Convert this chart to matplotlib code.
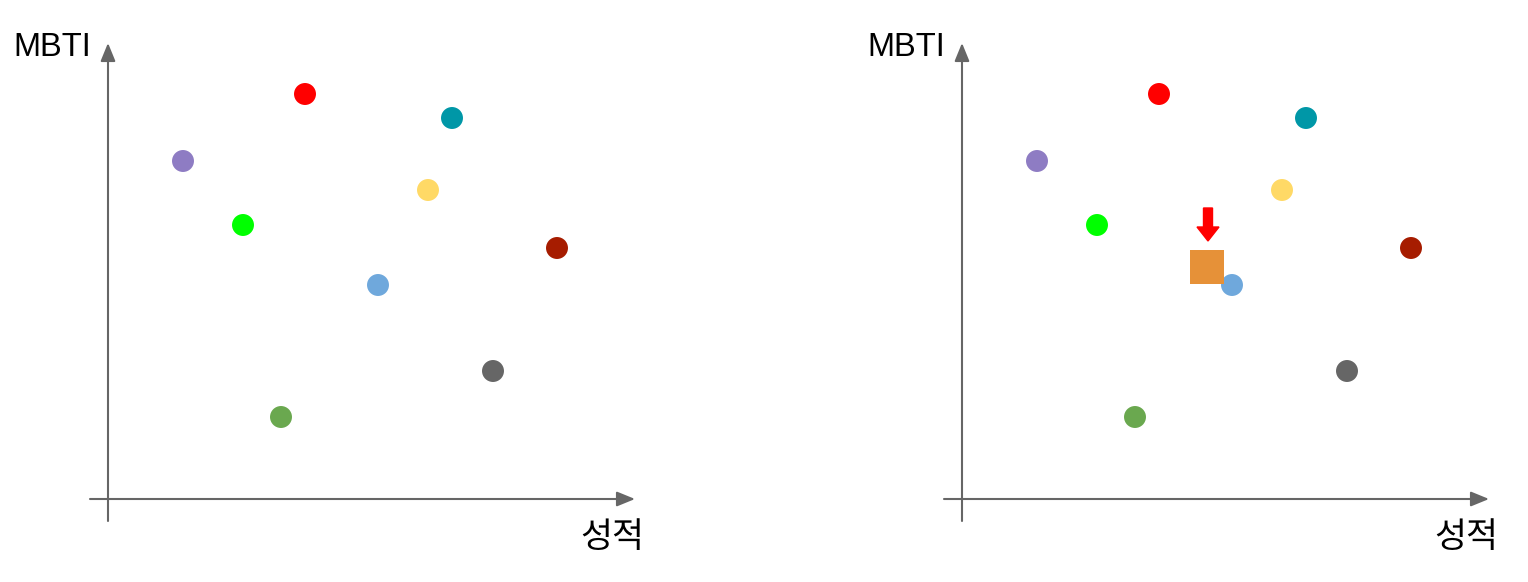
import matplotlib
matplotlib.use("Agg")
from matplotlib import pyplot as plt

# 성적 (x) and MBTI (y) of existing students, in chart units
scores = [75, 197, 344, 320, 135, 449, 270, 385, 173]
mbti = [338, 405, 381, 309, 274, 251, 214, 128, 82]
colors = ['#8e7cc3', '#ff0000', '#0097a7', '#ffd966', '#00ff00',
          '#a61c00', '#6fa8dc', '#666666', '#6aa84f']

# new student (right panel)
new_score = 245
new_mbti = 232

x_label = '성적'
y_label = 'MBTI'

W, H, DPI = 1528, 582, 100
fig = plt.figure(figsize=(W / DPI, H / DPI), dpi=DPI)

axis_color = '#666666'


def drawPanel(left_px, show_new):
    # axes sized in pixels so that 1 data unit == 1 pixel
    ax = fig.add_axes([left_px / W, 9 / H, 600 / W, 560 / H])
    ax.set_xlim(-50, 550)
    ax.set_ylim(-74, 486)
    ax.axis('off')

    ax.annotate('', xy=(0, 456), xytext=(0, -22),
                arrowprops=dict(arrowstyle='-|>,head_length=1.1,head_width=0.45',
                                color=axis_color, lw=1.5, shrinkA=0, shrinkB=0))
    ax.annotate('', xy=(527, 0), xytext=(-18, 0),
                arrowprops=dict(arrowstyle='-|>,head_length=1.1,head_width=0.45',
                                color=axis_color, lw=1.5, shrinkA=0, shrinkB=0))

    ax.text(-17, 452, y_label, ha='right', va='center', fontsize=23.5,
            family=['Liberation Sans', 'DejaVu Sans'])
    ax.text(536, -38, x_label, ha='right', va='center', fontsize=25,
            family=['Noto Sans CJK KR', 'DejaVu Sans'])

    ax.scatter(scores, mbti, s=250, c=colors, edgecolors='none', zorder=3)

    if show_new:
        ax.scatter([new_score], [new_mbti], s=600, marker='s', c='#e69138',
                   edgecolors='none', zorder=4)
        ax.arrow(new_score + 1, new_mbti + 59, 0, -33, width=9, head_width=22,
                 head_length=14, length_includes_head=True, color='#ff0000',
                 zorder=5)


drawPanel(58, False)
drawPanel(912, True)

fig.savefig('out.png', dpi=DPI)
